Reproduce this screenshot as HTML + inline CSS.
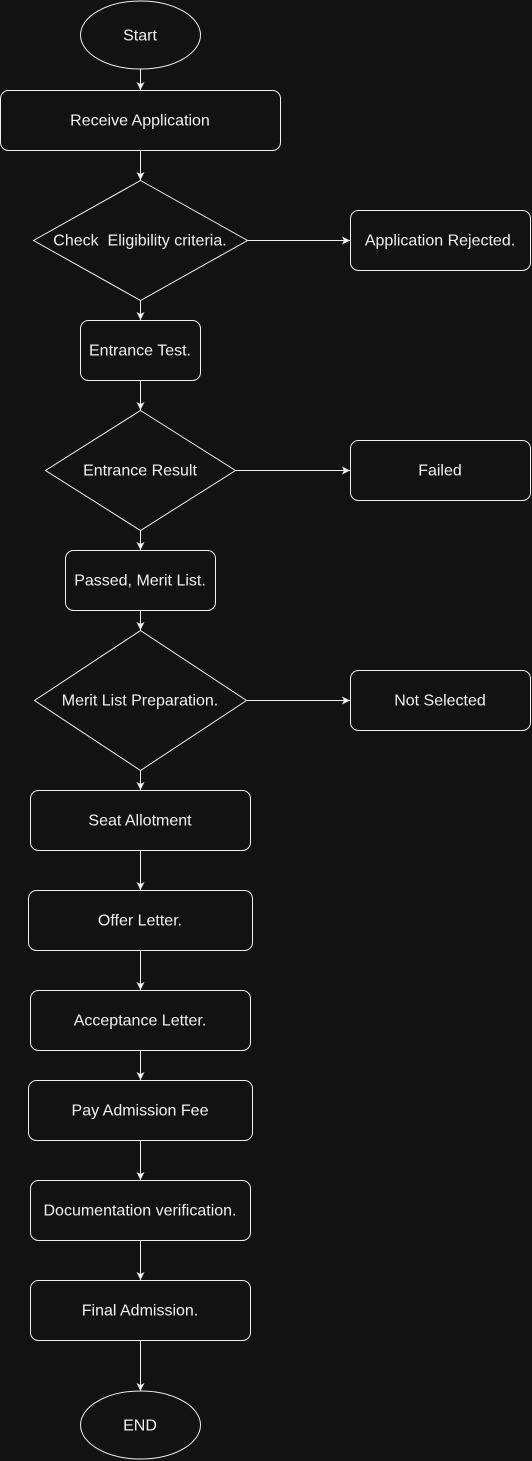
<!DOCTYPE html>
<html><head><meta charset="utf-8"><style>
html,body{margin:0;padding:0;background:#121212;}
svg{display:block;}
text{font-family:"Liberation Sans",sans-serif;font-size:16px;fill:#f0f0f0;text-anchor:middle;dominant-baseline:central;}
.s{fill:none;stroke:#f0f0f0;stroke-width:1;}
</style></head><body>
<svg width="532" height="1461" viewBox="0 0 532 1461" xmlns="http://www.w3.org/2000/svg">
<defs><marker id="a" markerWidth="10" markerHeight="10" refX="8" refY="4" orient="auto" markerUnits="userSpaceOnUse"><path d="M0,0 L8,4 L0,8 L2,4 Z" fill="#f0f0f0"/></marker></defs>
<rect width="532" height="1461" fill="#121212"/>
<g class="s">
<ellipse cx="140.5" cy="35" rx="60" ry="34"/>
<rect x="0.5" y="90.5" width="280" height="60" rx="8"/>
<polygon points="140.5,180.5 247.5,240.5 140.5,300.5 33.5,240.5"/>
<rect x="350.5" y="210.5" width="180" height="60" rx="8"/>
<rect x="80.5" y="320.5" width="120" height="60" rx="8"/>
<polygon points="140.5,410.5 235.5,470.5 140.5,530.5 45.5,470.5"/>
<rect x="350.5" y="440.5" width="180" height="60" rx="8"/>
<rect x="65.5" y="550.5" width="150" height="60" rx="8"/>
<polygon points="140.5,630.5 246.5,700.5 140.5,770.5 34.5,700.5"/>
<rect x="350.5" y="670.5" width="180" height="60" rx="8"/>
<rect x="30.5" y="790.5" width="220" height="60" rx="8"/>
<rect x="28.5" y="890.5" width="224" height="60" rx="8"/>
<rect x="30.5" y="990.5" width="220" height="60" rx="8"/>
<rect x="28.5" y="1080.5" width="224" height="60" rx="8"/>
<rect x="30.5" y="1180.5" width="220" height="60" rx="8"/>
<rect x="30.5" y="1280.5" width="220" height="60" rx="8"/>
<ellipse cx="140.5" cy="1425" rx="60" ry="34"/>
</g>
<g class="s" marker-end="url(#a)">
<line x1="140.5" y1="69" x2="140.5" y2="90"/>
<line x1="140.5" y1="151" x2="140.5" y2="180"/>
<line x1="247.5" y1="240.5" x2="350" y2="240.5"/>
<line x1="140.5" y1="301" x2="140.5" y2="320"/>
<line x1="140.5" y1="381" x2="140.5" y2="410"/>
<line x1="235.5" y1="470.5" x2="350" y2="470.5"/>
<line x1="140.5" y1="531" x2="140.5" y2="550"/>
<line x1="140.5" y1="611" x2="140.5" y2="630"/>
<line x1="246.5" y1="700.5" x2="350" y2="700.5"/>
<line x1="140.5" y1="771" x2="140.5" y2="790"/>
<line x1="140.5" y1="851" x2="140.5" y2="890"/>
<line x1="140.5" y1="951" x2="140.5" y2="990"/>
<line x1="140.5" y1="1051" x2="140.5" y2="1080"/>
<line x1="140.5" y1="1141" x2="140.5" y2="1180"/>
<line x1="140.5" y1="1241" x2="140.5" y2="1280"/>
<line x1="140.5" y1="1341" x2="140.5" y2="1391"/>
</g>
<text x="140" y="36">Start</text>
<text x="140" y="121">Receive Application</text>
<text x="140" y="241" xml:space="preserve">Check  Eligibility criteria.</text>
<text x="440" y="241">Application Rejected.</text>
<text x="140" y="351">Entrance Test.</text>
<text x="140" y="471">Entrance Result</text>
<text x="440" y="471">Failed</text>
<text x="140" y="581">Passed, Merit List.</text>
<text x="140" y="701">Merit List Preparation.</text>
<text x="440" y="701">Not Selected</text>
<text x="140" y="821">Seat Allotment</text>
<text x="140" y="921">Offer Letter.</text>
<text x="140" y="1021">Acceptance Letter.</text>
<text x="140" y="1111">Pay Admission Fee</text>
<text x="140" y="1211">Documentation verification.</text>
<text x="140" y="1311">Final Admission.</text>
<text x="140" y="1426">END</text>
</svg>
</body></html>
